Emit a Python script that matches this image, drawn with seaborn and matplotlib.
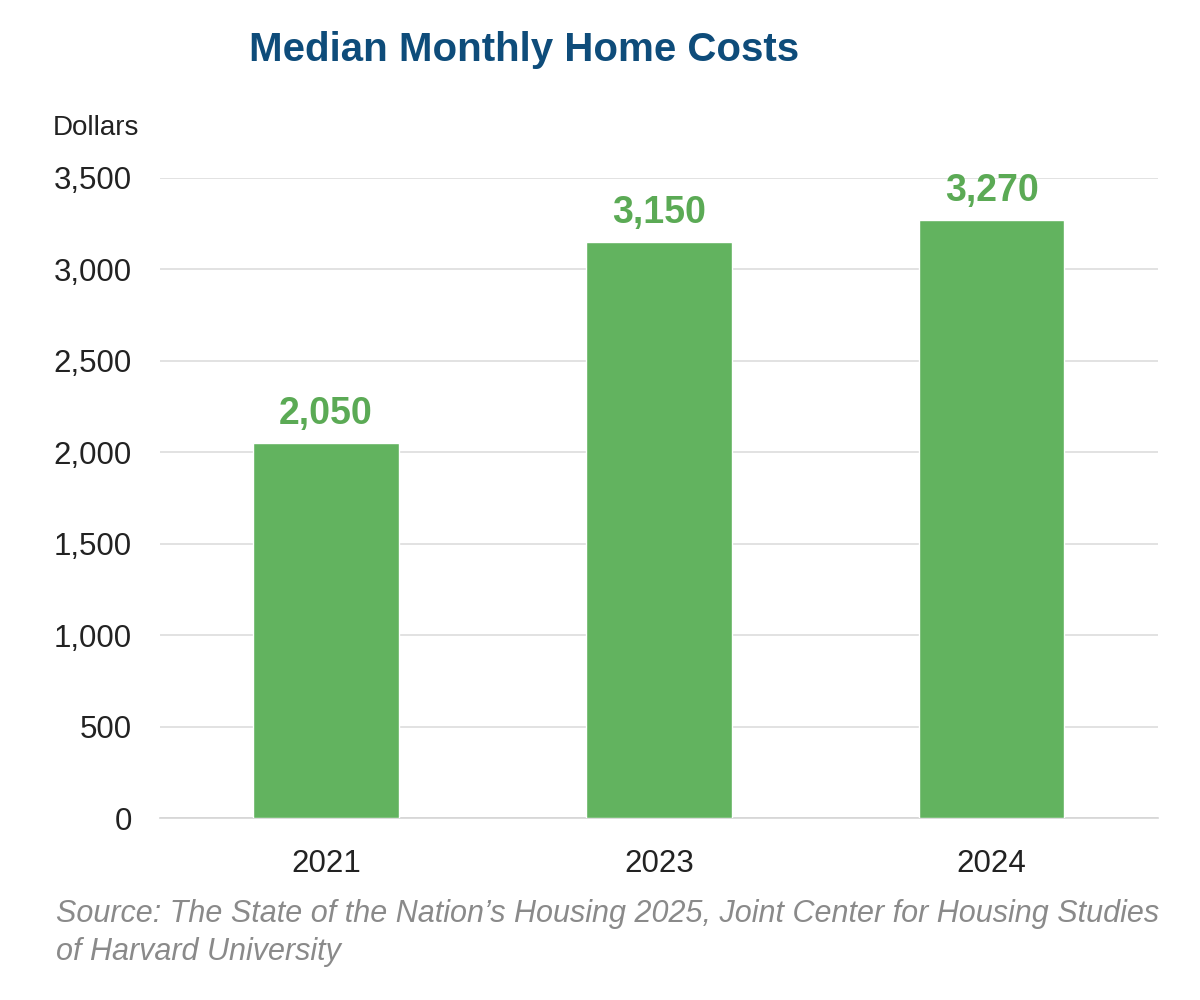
import pandas as pd
import matplotlib
matplotlib.use('Agg')
import matplotlib.pyplot as plt
import seaborn as sns

# data
years = ['2021', '2023', '2024']
costs = [2050, 3150, 3270]
value_labels = ['2,050', '3,150', '3,270']
yticks = [0, 500, 1000, 1500, 2000, 2500, 3000, 3500]

df = pd.DataFrame({'year': years, 'cost': costs})

sns.set_theme(style='white')
plt.rcParams['font.family'] = ['Liberation Sans', 'DejaVu Sans']

fig = plt.figure(figsize=(12, 10), dpi=100)
ax = fig.add_axes([0.133, 0.182, 0.832, 0.640])

sns.barplot(data=df, x='year', y='cost', color='#62B35F', width=0.437,
            saturation=1, ax=ax, zorder=3)

ax.set_ylim(0, 3500)
ax.set_xlim(-0.5, 2.5)
ax.set_yticks(yticks)
ax.set_yticklabels([f'{v:,}' for v in yticks])
ax.yaxis.grid(True, color='#DDDDDD', linewidth=1.2, zorder=0)
ax.set_axisbelow(True)
for s in ['top', 'left', 'right']:
    ax.spines[s].set_visible(False)
ax.spines['bottom'].set_color('#D5D5D5')
ax.spines['bottom'].set_linewidth(1.2)
ax.tick_params(axis='y', labelsize=22.5, length=0, pad=20, colors='#222222')
ax.tick_params(axis='x', labelsize=22.5, length=0, pad=22, colors='#222222')
ax.set_xlabel('')
ax.set_ylabel('')

# value labels
for bar, lab in zip(ax.patches, value_labels):
    ax.text(bar.get_x() + bar.get_width() / 2, bar.get_height() + 60, lab,
            ha='center', va='bottom', fontsize=27, fontweight='bold',
            color='#5BAA55')

fig.text(0.437, 0.950, 'Median Monthly Home Costs', ha='center', va='center',
         fontsize=29, fontweight='bold', color='#0E4C7A')
fig.text(0.044, 0.872, 'Dollars', ha='left', va='center', fontsize=20,
         color='#222222')
fig.text(0.047, 0.067,
         'Source: The State of the Nation\u2019s Housing 2025, Joint Center for Housing Studies\nof Harvard University',
         ha='left', va='center', fontsize=22, style='italic',
         color='#8A8A8A', linespacing=1.35)

plt.savefig('out.png', dpi=100)
